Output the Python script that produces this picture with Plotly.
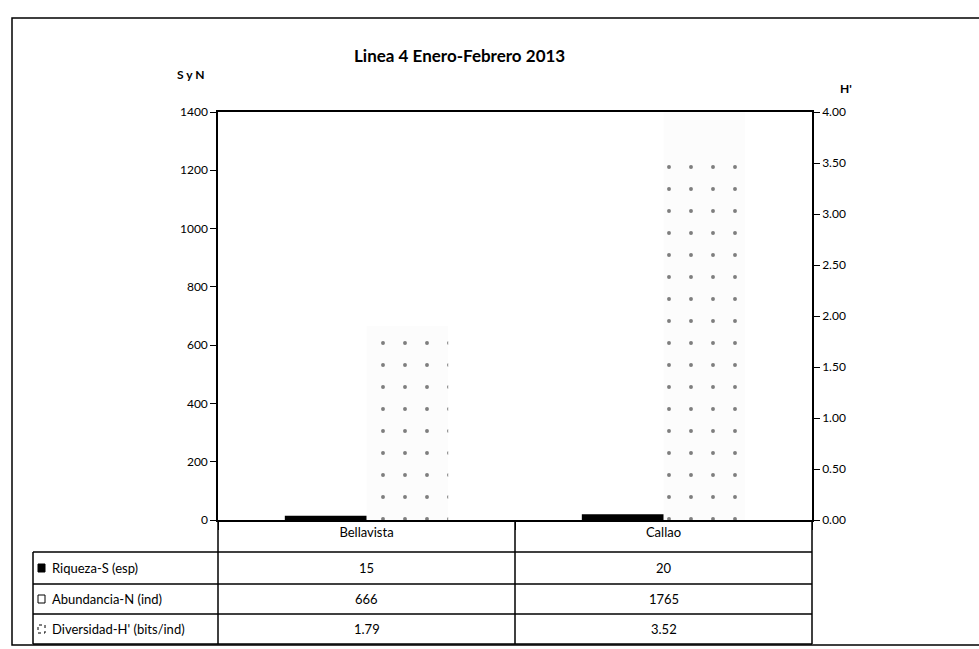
import plotly.graph_objects as go

# Data
categories = ["Bellavista", "Callao"]
riqueza = [15, 20]          # S (esp)
abundancia = [666, 1765]    # N (ind)
diversidad = [1.79, 3.52]   # H' (bits/ind)

row_labels = ["Riqueza-S (esp)", "Abundancia-N (ind)", "Diversidad-H' (bits/ind)"]
row_values = [
    [str(v) for v in riqueza],
    [str(v) for v in abundancia],
    [f"{v:.2f}" for v in diversidad],
]

title_text = "Linea 4 Enero-Febrero 2013"
left_title = "S y N"
right_title = "H'"

W, H = 979, 649
PL, PR, PT, PB = 218, 812, 112, 520   # plot area in pixels


def px(x):
    return (x - PL) / (PR - PL)


def py(y):
    return (PB - y) / (PB - PT)


FONT = "Lato, Liberation Sans, Arial, sans-serif"

fig = go.Figure()

fig.add_trace(go.Bar(
    x=categories, y=riqueza, name=row_labels[0],
    marker=dict(color="black", line=dict(width=0)),
    offsetgroup="a", alignmentgroup="g", yaxis="y",
))
fig.add_trace(go.Bar(
    x=categories, y=abundancia, name=row_labels[1],
    marker=dict(color="rgba(0,0,0,0.012)", line=dict(width=0)),
    offsetgroup="b", alignmentgroup="g", yaxis="y",
))
fig.add_trace(go.Bar(
    x=categories, y=diversidad, name=row_labels[2],
    marker=dict(color="white", line=dict(width=0),
                pattern=dict(shape=".", fgcolor="black", bgcolor="rgba(0,0,0,0)",
                             size=22, solidity=0.025)),
    offsetgroup="b", alignmentgroup="g", yaxis="y2",
))

fig.update_layout(
    width=W, height=H,
    margin=dict(l=PL, r=W - PR, t=PT, b=H - PB),
    paper_bgcolor="white", plot_bgcolor="white",
    barmode="group", bargap=0.45, bargroupgap=0,
    showlegend=False,
    font=dict(family=FONT, color="black", size=12),
    xaxis=dict(
        showline=True, linecolor="black", linewidth=1.5, mirror=True,
        ticks="outside", tickson="boundaries", ticklen=8, tickcolor="black",
        tickfont=dict(size=13, color="black"), showgrid=False,
    ),
    yaxis=dict(
        range=[0, 1400], dtick=200, showgrid=False, zeroline=False,
        showline=True, linecolor="black", linewidth=1.5,
        ticks="outside", ticklen=6, tickcolor="black",
        tickfont=dict(size=12, color="black"),
    ),
    yaxis2=dict(
        range=[0, 4], dtick=0.5, tickformat=".2f", overlaying="y", side="right",
        showgrid=False, zeroline=False,
        showline=True, linecolor="black", linewidth=1.5,
        ticks="outside", ticklen=6, tickcolor="black",
        tickfont=dict(size=12, color="black"),
    ),
)

annotations = [
    dict(text=f"<b>{title_text}</b>", x=px(459), y=py(55), xref="paper", yref="paper",
         showarrow=False, font=dict(size=17, family=FONT), xanchor="center", yanchor="middle"),
    dict(text=f"<b>{left_title}</b>", x=px(190), y=py(74), xref="paper", yref="paper",
         showarrow=False, font=dict(size=12, family=FONT), xanchor="center", yanchor="middle"),
    dict(text=f"<b>{right_title}</b>", x=px(846), y=py(88), xref="paper", yref="paper",
         showarrow=False, font=dict(size=12, family=FONT), xanchor="center", yanchor="middle"),
]

# Data table under the chart
row_lines = [552, 584, 614, 644]
row_centers = [568, 599, 629]
shapes = []
for yl in row_lines:
    shapes.append(dict(type="line", xref="paper", yref="paper",
                       x0=px(33), x1=px(812), y0=py(yl), y1=py(yl),
                       line=dict(color="black", width=1.5)))
for xl, ytop in [(33, 552), (PL, 520), (515, 520), (PR, 520)]:
    shapes.append(dict(type="line", xref="paper", yref="paper",
                       x0=px(xl), x1=px(xl), y0=py(ytop), y1=py(644),
                       line=dict(color="black", width=1.5)))

key_styles = [
    dict(fillcolor="black", line=dict(color="black", width=1)),
    dict(fillcolor="white", line=dict(color="black", width=1)),
    dict(fillcolor="white", line=dict(color="black", width=1, dash="dot")),
]
for label, vals, yc, ks in zip(row_labels, row_values, row_centers, key_styles):
    shapes.append(dict(type="rect", xref="paper", yref="paper",
                       x0=px(38), x1=px(45), y0=py(yc + 4), y1=py(yc - 4), **ks))
    annotations.append(dict(text=label, x=px(50), y=py(yc), xref="paper", yref="paper",
                            showarrow=False, xanchor="left", yanchor="middle",
                            font=dict(size=13, family=FONT)))
    for cat, v in zip(categories, vals):
        annotations.append(dict(text=v, x=cat, y=py(yc), xref="x", yref="paper",
                                showarrow=False, xanchor="center", yanchor="middle",
                                font=dict(size=13, family=FONT)))

# Chart area border
shapes.append(dict(type="rect", xref="paper", yref="paper",
                   x0=px(12), x1=px(990), y0=py(645), y1=py(18),
                   line=dict(color="black", width=1.5), fillcolor="rgba(0,0,0,0)"))

fig.update_layout(annotations=annotations, shapes=shapes)

fig.write_html("out.html")
